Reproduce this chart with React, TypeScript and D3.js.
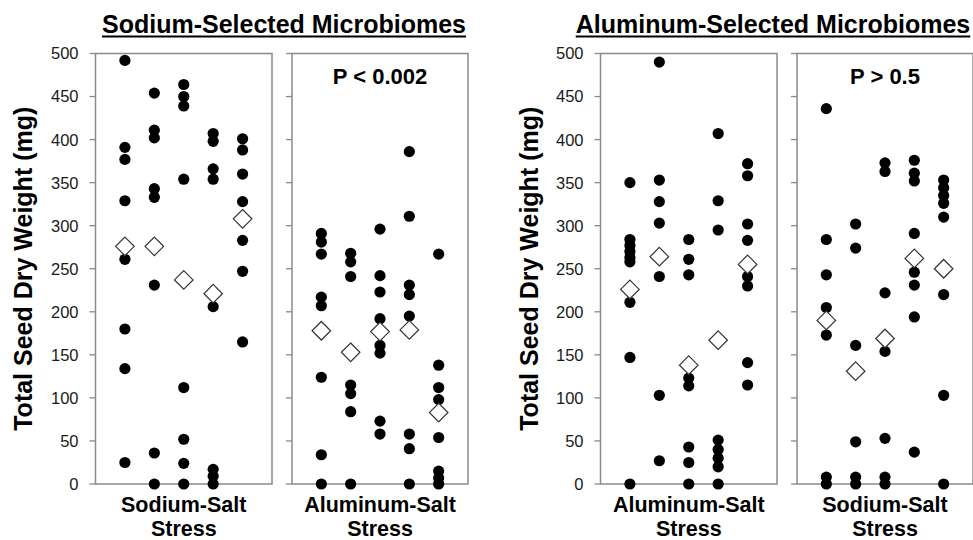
import React from "react";
import * as d3 from "d3";

// ---- data (mg) ----
const tickValues = [0, 50, 100, 150, 200, 250, 300, 350, 400, 450, 500];
const columns = ["c1", "c2", "c3", "c4", "c5"];

// Sodium-selected microbiomes
const naSelNaStress = [
  [492, 391, 377, 329, 261, 180, 134, 25],
  [454, 411, 402, 343, 333, 231, 36, 0],
  [464, 450, 439, 354, 112, 52, 24, 0],
  [407, 398, 366, 354, 206, 17, 9, 0],
  [401, 388, 360, 328, 283, 247, 165],
];
const naSelNaStressMeans = [276, 276, 237, 221, 308];

const naSelAlStress = [
  [291, 281, 267, 217, 207, 124, 34, 0],
  [268, 258, 241, 115, 105, 84, 0],
  [296, 242, 223, 192, 161, 152, 73, 58],
  [386, 311, 231, 220, 195, 58, 41, 0],
  [267, 138, 112, 98, 54, 15, 7, 0],
];
const naSelAlStressMeans = [178, 153, 177, 179, 83];

// Aluminum-selected microbiomes
const alSelAlStress = [
  [350, 284, 277, 270, 263, 258, 211, 147, 0],
  [490, 353, 328, 303, 241, 103, 27],
  [284, 261, 243, 123, 114, 43, 25, 0],
  [407, 329, 295, 51, 40, 30, 20, 0],
  [372, 358, 302, 283, 241, 230, 141, 115],
];
const alSelAlStressMeans = [226, 264, 138, 167, 255];

const alSelNaStress = [
  [436, 284, 243, 205, 173, 8, 0],
  [302, 274, 161, 49, 8, 0],
  [373, 363, 222, 154, 53, 8, 0],
  [376, 361, 352, 291, 246, 231, 194, 37],
  [353, 344, 335, 326, 310, 220, 103, 0],
];
const alSelNaStressMeans = [190, 131, 169, 262, 250];

const chartTitles = ["Sodium-Selected Microbiomes", "Aluminum-Selected Microbiomes"];
const yLabel = "Total Seed Dry Weight (mg)";
const pLabels = ["P < 0.002", "P > 0.5"];

const FONT = "'Liberation Sans', Arial, sans-serif";
const W = 973;
const H = 540;

const y = d3.scaleLinear().domain([0, 500]).range([484, 53.5]);

type PanelProps = {
  x0: number;
  x1: number;
  data: number[][];
  means: number[];
  label: string[];
  pLabel?: string;
  showTickLabels: boolean;
};

function Panel({ x0, x1, data, means, label, pLabel, showTickLabels }: PanelProps) {
  const x = d3.scalePoint<string>().domain(columns).range([x0, x1]).padding(1);
  const cx = (x0 + x1) / 2;
  const diamond = d3.symbol().type(d3.symbolDiamond2).size(220)();
  return (
    <g>
      {tickValues.map((t) => (
        <g key={t}>
          <line x1={x0 - 6} x2={x0} y1={y(t)} y2={y(t)} stroke="#8a8a8a" strokeWidth={1.3} />
          {showTickLabels && (
            <text
              x={x0 - 17}
              y={y(t)}
              dy="0.36em"
              textAnchor="end"
              fontFamily={FONT}
              fontSize={16.5}
              fill="#1a1a1a"
            >
              {t}
            </text>
          )}
        </g>
      ))}
      <rect
        x={x0}
        y={y(500)}
        width={x1 - x0}
        height={y(0) - y(500)}
        fill="none"
        stroke="#8a8a8a"
        strokeWidth={1.5}
      />
      {data.map((col, i) =>
        col.map((v, j) => (
          <circle key={`${i}-${j}`} cx={x(columns[i])} cy={y(v)} r={5.6} fill="#000" />
        ))
      )}
      {means.map((m, i) => (
        <path
          key={`m${i}`}
          d={diamond as string}
          transform={`translate(${x(columns[i])},${y(m)})`}
          fill="#fff"
          stroke="#333"
          strokeWidth={1.2}
        />
      ))}
      {pLabel && (
        <text x={cx} y={84} textAnchor="middle" fontFamily={FONT} fontWeight="bold" fontSize={22} fill="#000">
          {pLabel}
        </text>
      )}
      {label.map((l, k) => (
        <text
          key={l}
          x={cx}
          y={512 + k * 24}
          textAnchor="middle"
          fontFamily={FONT}
          fontWeight="bold"
          fontSize={21.5}
          fill="#000"
        >
          {l}
        </text>
      ))}
    </g>
  );
}

function Title({ x, text }: { x: number; text: string }) {
  const ref = React.useRef<SVGTextElement>(null);
  const [w, setW] = React.useState(0);
  React.useEffect(() => {
    if (ref.current) setW(ref.current.getComputedTextLength());
  }, []);
  return (
    <g>
      <text ref={ref} x={x} y={33} textAnchor="middle" fontFamily={FONT} fontWeight="bold" fontSize={25} fill="#000">
        {text}
      </text>
      {w > 0 && <line x1={x - w / 2} x2={x + w / 2} y1={36.5} y2={36.5} stroke="#000" strokeWidth={2.2} />}
    </g>
  );
}

export default function App() {
  return (
    <svg
      width={W}
      height={H}
      style={{ position: "absolute", left: 0, top: 0, background: "#fff" }}
    >
      <rect width={W} height={H} fill="#fff" />
      {/* Left chart */}
      <Title x={284} text={chartTitles[0]} />
      <text
        transform={`translate(32,${(y(0) + y(500)) / 2}) rotate(-90)`}
        textAnchor="middle"
        fontFamily={FONT}
        fontWeight="bold"
        fontSize={25}
        fill="#000"
      >
        {yLabel}
      </text>
      <Panel x0={95.5} x1={272} data={naSelNaStress} means={naSelNaStressMeans} label={["Sodium-Salt", "Stress"]} showTickLabels />
      <Panel x0={292} x1={468} data={naSelAlStress} means={naSelAlStressMeans} label={["Aluminum-Salt", "Stress"]} pLabel={pLabels[0]} showTickLabels={false} />

      {/* Right chart */}
      <Title x={773} text={chartTitles[1]} />
      <text
        transform={`translate(538,${(y(0) + y(500)) / 2}) rotate(-90)`}
        textAnchor="middle"
        fontFamily={FONT}
        fontWeight="bold"
        fontSize={25}
        fill="#000"
      >
        {yLabel}
      </text>
      <Panel x0={600.5} x1={777} data={alSelAlStress} means={alSelAlStressMeans} label={["Aluminum-Salt", "Stress"]} showTickLabels />
      <Panel x0={797} x1={973} data={alSelNaStress} means={alSelNaStressMeans} label={["Sodium-Salt", "Stress"]} pLabel={pLabels[1]} showTickLabels={false} />
    </svg>
  );
}
